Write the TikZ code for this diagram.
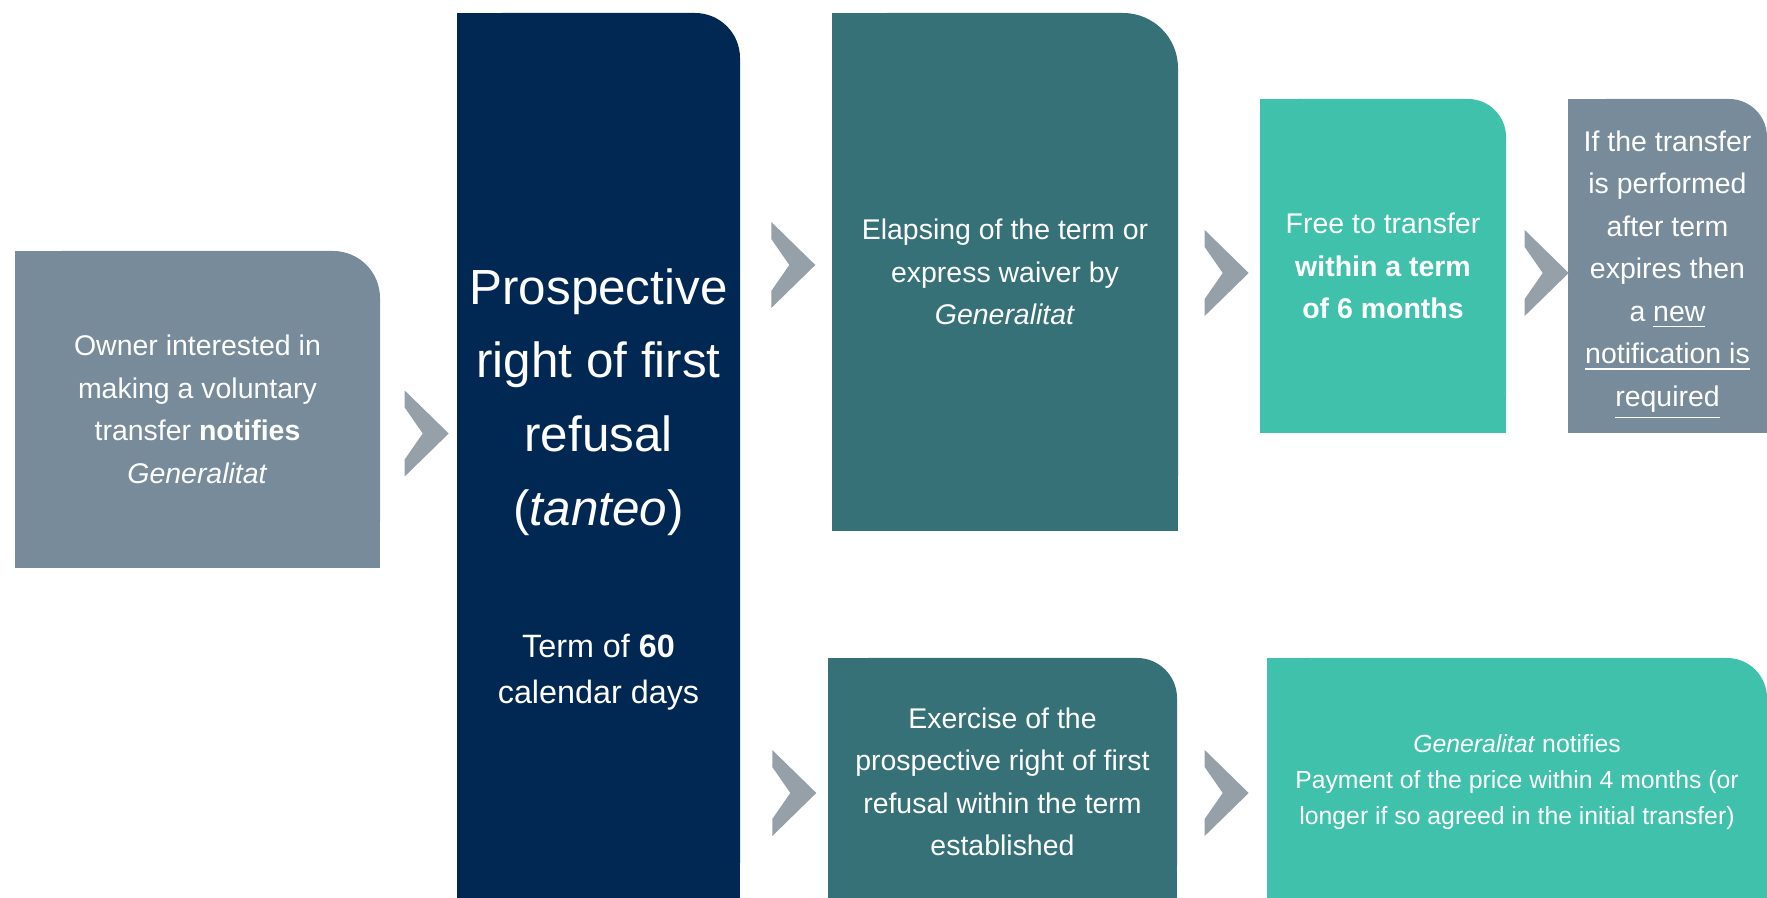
\documentclass[tikz,border=0pt]{standalone}
\usepackage{fontspec}
\setmainfont{Liberation Sans}
\usetikzlibrary{calc}
\definecolor{slate}{RGB}{119,139,154}
\definecolor{navy}{RGB}{0,40,82}
\definecolor{petrol}{RGB}{54,113,120}
\definecolor{mint}{RGB}{64,193,171}
\definecolor{chevgray}{RGB}{150,160,169}

\tikzset{
  chevron/.pic={\fill[chevgray] (0,-43) -- (44,0) -- (0,43) -- (0,26) -- (18,0) -- (0,-26) -- cycle;},
  box/.style 2 args={inner sep=0pt,fill=white,text=white,align=center,
    font=\fontsize{8.1}{12.1}\selectfont,
    path picture={
      \fill[#1,rounded corners=#2] (path picture bounding box.south west) rectangle (path picture bounding box.north east);
      \fill[#1] (path picture bounding box.south west) rectangle ([xshift=-#2]path picture bounding box.north east);
      \fill[#1] (path picture bounding box.south west) rectangle ([yshift=-#2]path picture bounding box.north east);}},
  label text/.style={text=white,align=center,font=\fontsize{8.1}{12.1}\selectfont},
  title/.style={text=white,align=center,font=\fontsize{14.05}{21}\selectfont},
  term/.style={text=white,align=center,font=\fontsize{9.2}{13.1}\selectfont}
}

\begin{document}
\begin{tikzpicture}[x=0.1mm,y=-0.1mm]
\useasboundingbox (0,0) rectangle (1767,898);
\clip (0,0) rectangle (1767,898);

\node[box={slate}{4.7mm},minimum width=36.5mm,minimum height=31.7mm] (owner) at (197.5,409.5)
  {Owner interested in\\making a voluntary\\transfer \textbf{notifies}\\\textit{Generalitat}};

\node[box={navy}{4.5mm},minimum width=28.3mm,minimum height=89.5mm] (tanteo) at (598.5,460.5) {};
\node[title] (prospective) at (598.5,402) {Prospective\\right of first\\refusal\\(\textit{tanteo})};
\node[term] (term) at (598.5,672) {Term of \textbf{60}\\calendar days};

\node[box={petrol}{5.5mm},minimum width=34.6mm,minimum height=51.8mm] (waiver) at (1005,272)
  {Elapsing of the term or\\express waiver by\\\textit{Generalitat}};
\node[box={mint}{3.8mm},minimum width=24.6mm,minimum height=33.4mm] (free) at (1383,266)
  {Free to transfer\\\textbf{within a term}\\\textbf{of 6 months}};
\node[box={slate}{3.8mm},minimum width=19.9mm,minimum height=33.4mm] (renew) at (1667.5,266) {};
\node[label text] (renewtext) at (1667.5,275)
  {If the transfer\\is performed\\after term\\expires then\\a \underline{new}\\\underline{notification is}\\\underline{required}};

\node[box={petrol}{4mm},minimum width=34.9mm,minimum height=24.8mm] (exercise) at (1002.5,782)
  {Exercise of the\\prospective right of first\\refusal within the term\\established};
\node[box={mint}{4mm},minimum width=50mm,minimum height=24.8mm,font=\fontsize{7.05}{10.25}\selectfont] (payment) at (1517,782)
  {\textit{Generalitat} notifies\\Payment of the price within 4 months (or\\longer if so agreed in the initial transfer)};

\pic at ($(owner.east)+(24,24)$) {chevron};
\pic at ($(waiver.west)+(-60,-7)$) {chevron};
\pic at ($(exercise.west)+(-55,11)$) {chevron};
\pic at ($(waiver.east)+(26,1)$) {chevron};
\pic at ($(free.east)+(18,7)$) {chevron};
\pic at ($(exercise.east)+(27,11)$) {chevron};
\end{tikzpicture}
\end{document}
